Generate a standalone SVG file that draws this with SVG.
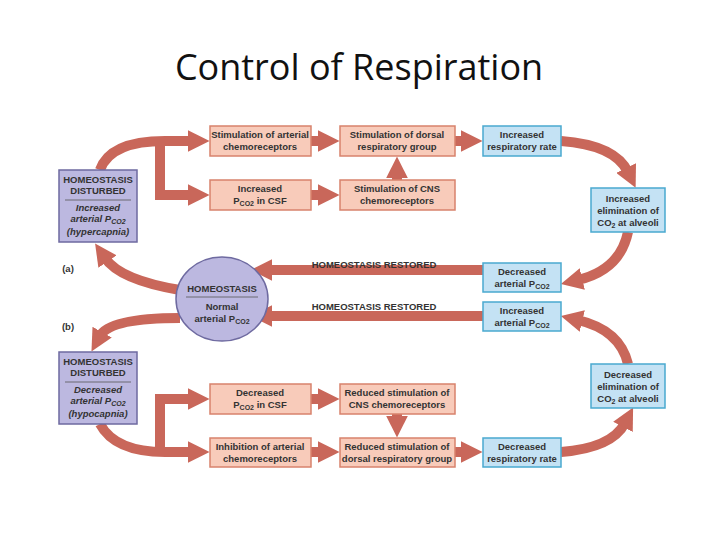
<svg xmlns="http://www.w3.org/2000/svg" width="720" height="540" viewBox="0 0 720 540">
<style>
.t{font-family:"Liberation Sans",Arial,sans-serif;font-weight:bold;font-size:9.5px;fill:#333;text-anchor:middle}
.i{font-style:italic}
.s{font-size:7px}
.pk{fill:#f8cbba;stroke:#d8826c;stroke-width:1.5}
.bl{fill:#c4e2f4;stroke:#49a9cf;stroke-width:1.5}
.pu{fill:#bcb8e0;stroke:#6e6aa0;stroke-width:1.5}
.ar{fill:none;stroke:#c9675a;stroke-width:10}
.arm{fill:none;stroke:#c9675a;stroke-width:10;marker-end:url(#h)}
</style>
<defs>
<marker id="h" viewBox="0 0 10 10" refX="2" refY="5" markerWidth="22" markerHeight="22" markerUnits="userSpaceOnUse" orient="auto"><path d="M0,0 L10,5 L0,10 z" fill="#c9675a"/></marker>
</defs>
<rect width="720" height="540" fill="#fff"/>
<text x="359" y="80" style="font-family:'Open Sans','Liberation Sans',sans-serif;font-size:36px;fill:#111;text-anchor:middle">Control of Respiration</text>
<g id="connectors">
<path class="arm" d="M100,170 Q110,141 165,141 L192,141"/>
<path class="arm" d="M160,141 L160,195 L192,195"/>
<path class="arm" d="M311,141 L322,141"/>
<path class="arm" d="M311,195 L322,195"/>
<path class="arm" d="M397,180 L397,174"/>
<path class="arm" d="M455,141 L465,141"/>
<path class="arm" d="M561,141 Q615,145 628,172"/>
<path class="arm" d="M628,232 Q620,270 578,280"/>
<path class="arm" d="M483,270 L268,270"/>
<path class="arm" d="M180,290 Q120,280 105,258"/>
<path class="arm" d="M483,316 L268,316"/>
<path class="arm" d="M180,318 Q110,318 100,336"/>
<path class="arm" d="M100,424 Q115,452 165,452 L192,452"/>
<path class="arm" d="M160,452 L160,399 L192,399"/>
<path class="arm" d="M311,399 L322,399"/>
<path class="arm" d="M397,414 L397,420"/>
<path class="arm" d="M311,452 L322,452"/>
<path class="arm" d="M455,452 L465,452"/>
<path class="arm" d="M561,452 Q612,448 625,423"/>
<path class="arm" d="M628,364 Q620,330 578,320"/>
</g>
<g id="restored">
<text class="t" x="374" y="268">HOMEOSTASIS RESTORED</text>
<text class="t" x="374" y="310">HOMEOSTASIS RESTORED</text>
<text class="t" x="68" y="272">(a)</text>
<text class="t" x="68" y="330">(b)</text>
</g>
<g id="hd-a"><rect class="pu" x="59" y="170" width="78" height="72"/>
<text class="t" x="98" y="183">HOMEOSTASIS</text><text class="t" x="98" y="194">DISTURBED</text>
<line x1="65" y1="200" x2="131" y2="200" stroke="#555" stroke-width="0.8"/>
<text class="t i" x="98" y="211">Increased</text><text class="t i" x="98" y="222">arterial P<tspan class="s" dy="2">CO2</tspan></text><text class="t i" x="98" y="235">(hypercapnia)</text></g>
<g id="stim-art"><rect class="pk" x="210" y="126" width="101" height="30"/><text class="t" x="260" y="138">Stimulation of arterial</text><text class="t" x="260" y="150">chemoreceptors</text></g>
<g id="inc-csf"><rect class="pk" x="210" y="180" width="101" height="30"/><text class="t" x="260" y="192">Increased</text><text class="t" x="260" y="204">P<tspan class="s" dy="2">CO2</tspan><tspan dy="-2"> in CSF</tspan></text></g>
<g id="stim-dorsal"><rect class="pk" x="340" y="126" width="115" height="30"/><text class="t" x="397" y="138">Stimulation of dorsal</text><text class="t" x="397" y="150">respiratory group</text></g>
<g id="stim-cns"><rect class="pk" x="340" y="180" width="115" height="30"/><text class="t" x="397" y="192">Stimulation of CNS</text><text class="t" x="397" y="204">chemoreceptors</text></g>
<g id="inc-rate"><rect class="bl" x="483" y="126" width="78" height="30"/><text class="t" x="522" y="138">Increased</text><text class="t" x="522" y="150">respiratory rate</text></g>
<g id="inc-elim"><rect class="bl" x="591" y="188" width="74" height="44"/><text class="t" x="628" y="202">Increased</text><text class="t" x="628" y="214">elimination of</text><text class="t" x="628" y="226">CO<tspan class="s" dy="2">2</tspan><tspan dy="-2"> at alveoli</tspan></text></g>
<g id="dec-art"><rect class="bl" x="483" y="263" width="78" height="29"/><text class="t" x="522" y="275">Decreased</text><text class="t" x="522" y="287">arterial P<tspan class="s" dy="2">CO2</tspan></text></g>
<g id="homeostasis"><ellipse cx="222" cy="299" rx="46" ry="42" fill="#bcb8e0" stroke="#6e6aa0" stroke-width="1.5"/>
<text class="t" x="222" y="292">HOMEOSTASIS</text><line x1="186" y1="297" x2="258" y2="297" stroke="#555" stroke-width="0.8"/>
<text class="t" x="222" y="310">Normal</text><text class="t" x="222" y="322">arterial P<tspan class="s" dy="2">CO2</tspan></text></g>
<g id="inc-art"><rect class="bl" x="483" y="302" width="78" height="29"/><text class="t" x="522" y="314">Increased</text><text class="t" x="522" y="326">arterial P<tspan class="s" dy="2">CO2</tspan></text></g>
<g id="hd-b"><rect class="pu" x="59" y="352" width="78" height="72"/>
<text class="t" x="98" y="365">HOMEOSTASIS</text><text class="t" x="98" y="376">DISTURBED</text>
<line x1="65" y1="382" x2="131" y2="382" stroke="#555" stroke-width="0.8"/>
<text class="t i" x="98" y="393">Decreased</text><text class="t i" x="98" y="404">arterial P<tspan class="s" dy="2">CO2</tspan></text><text class="t i" x="98" y="417">(hypocapnia)</text></g>
<g id="dec-csf"><rect class="pk" x="210" y="384" width="101" height="30"/><text class="t" x="260" y="396">Decreased</text><text class="t" x="260" y="408">P<tspan class="s" dy="2">CO2</tspan><tspan dy="-2"> in CSF</tspan></text></g>
<g id="red-cns"><rect class="pk" x="340" y="384" width="115" height="30"/><text class="t" x="397" y="396">Reduced stimulation of</text><text class="t" x="397" y="408">CNS chemoreceptors</text></g>
<g id="inh-art"><rect class="pk" x="210" y="438" width="101" height="29"/><text class="t" x="260" y="450">Inhibition of arterial</text><text class="t" x="260" y="462">chemoreceptors</text></g>
<g id="red-dorsal"><rect class="pk" x="340" y="438" width="115" height="29"/><text class="t" x="397" y="450">Reduced stimulation of</text><text class="t" x="397" y="462">dorsal respiratory group</text></g>
<g id="dec-rate"><rect class="bl" x="483" y="438" width="78" height="29"/><text class="t" x="522" y="450">Decreased</text><text class="t" x="522" y="462">respiratory rate</text></g>
<g id="dec-elim"><rect class="bl" x="591" y="364" width="74" height="44"/><text class="t" x="628" y="378">Decreased</text><text class="t" x="628" y="390">elimination of</text><text class="t" x="628" y="402">CO<tspan class="s" dy="2">2</tspan><tspan dy="-2"> at alveoli</tspan></text></g>
</svg>
